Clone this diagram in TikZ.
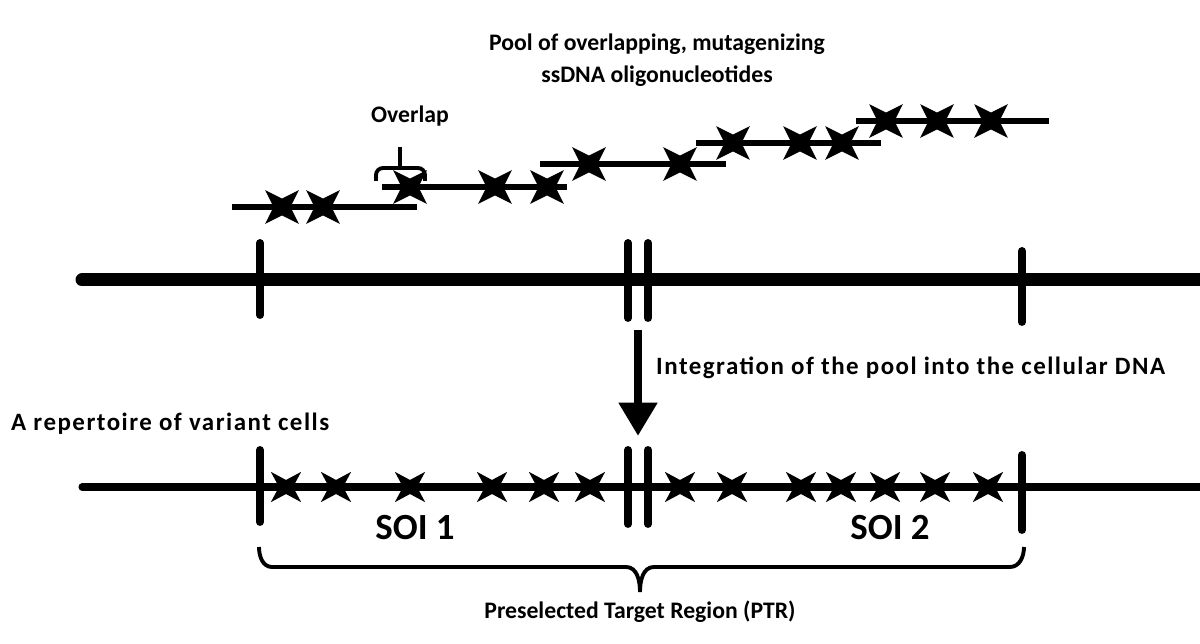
\documentclass[tikz,border=0pt]{standalone}
\usepackage{fontspec}
\setmainfont{Carlito}
\usetikzlibrary{arrows.meta}

\begin{document}
\begin{tikzpicture}[x=0.02cm, y=-0.02cm,
  every node/.style={font=\bfseries\fontsize{13.5}{16}\selectfont},
  wide/.style={font=\bfseries\fontsize{14.2}{17}\selectfont\addfontfeature{LetterSpace=6}},
  soi/.style={font=\bfseries\fontsize{21}{24}\selectfont},
  dna/.style={line width=7.4pt, line cap=round},
  celldna/.style={line width=4pt, line cap=round},
  oligo/.style={line width=3.8pt},
  tick/.style={line width=4.5pt, line cap=round},
  brace/.style={line width=2.2pt},
  mut/.pic={\fill (45:13.5pt) -- (90:4.8pt) -- (135:13.5pt) -- (180:4.8pt) -- (225:13.5pt)
    -- (270:4.8pt) -- (315:13.5pt) -- (0:4.8pt) -- cycle;},
  smallmut/.pic={\fill (45:12.2pt) -- (90:4pt) -- (135:12.2pt) -- (180:4pt) -- (225:12.2pt)
    -- (270:4pt) -- (315:12.2pt) -- (0:4pt) -- cycle;}]
  \useasboundingbox (0,0) rectangle (1200,644);
  % titles
  \node (pool) at (657,44) {Pool of overlapping, mutagenizing};
  \node (ssdna) at (657,76) {ssDNA oligonucleotides};
  \node (overlap) at (410,116) {Overlap};
  % oligos
  \draw[oligo] (232,207) -- (417,207);
  \draw[oligo] (382,187) -- (567,187);
  \draw[oligo] (540,164) -- (726,164);
  \draw[oligo] (696,143) -- (881,143);
  \draw[oligo] (856,121) -- (1049,121);
  \foreach \x in {282,323} \pic at (\x,207) {mut};
  \foreach \x in {410,495,547} \pic at (\x,187) {mut};
  \foreach \x in {589,680} \pic at (\x,164) {mut};
  \foreach \x in {733,800,842} \pic at (\x,143) {mut};
  \foreach \x in {886,937,991} \pic at (\x,121) {mut};
  \draw[brace, rounded corners=4pt] (376,181) -- (376,168) -- (425,168) -- (425,181);
  \draw[brace] (400,168) -- (400,147);
  % cellular DNA
  \draw[dna] (82,280) -- (1210,280);
  \draw[tick] (260,243) -- (260,315);
  \draw[tick] (628,243) -- (628,318);
  \draw[tick] (648,243) -- (648,318);
  \draw[tick] (1022,251) -- (1022,322);
  % integration
  \coordinate (arrtop) at (638,330);
  \coordinate (arrtip) at (638,436);
  \draw[line width=5pt, -{Triangle[length=19pt, width=21pt]}] (arrtop) -- (arrtip);
  \node[wide, anchor=west] (integ) at (650,368) {Integration of the pool into the cellular DNA};
  \node[wide, anchor=west] (rep) at (5,424) {A repertoire of variant cells};
  % variant cells
  \draw[celldna] (82,487) -- (1210,487);
  \draw[tick] (260,450) -- (260,522);
  \draw[tick] (628,450) -- (628,524);
  \draw[tick] (648,450) -- (648,524);
  \draw[tick] (1022,455) -- (1022,530);
  \foreach \x in {286,336,410,492,544,590,680,732,801,841,885,935,988}
    \pic at (\x,487) {smallmut};
  \node[soi] (soi1) at (415,528) {SOI 1};
  \node[soi] (soi2) at (890,528) {SOI 2};
  % PTR brace
  \draw[brace] (259,547) to[out=-90,in=180] (272,567) -- (626,567) to[out=0,in=90] (640,592);
  \draw[brace] (640,592) to[out=90,in=180] (654,567) -- (1010,567) to[out=0,in=-90] (1024,547);
  \node (ptr) at (640,612) {Preselected Target Region (PTR)};
\end{tikzpicture}
\end{document}
